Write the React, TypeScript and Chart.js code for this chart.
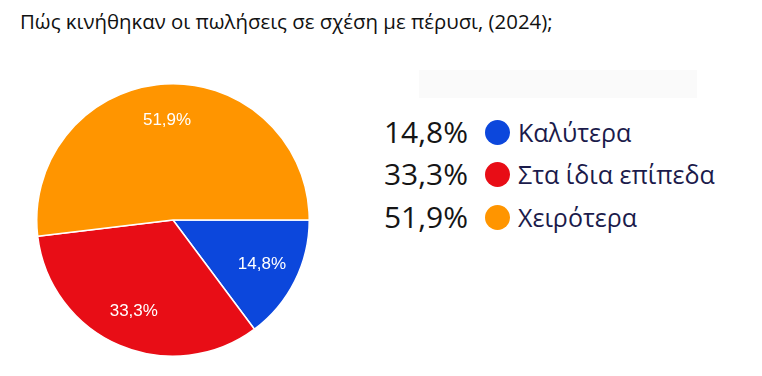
import React, { useEffect, useRef } from "react";
import { Chart, registerables } from "chart.js";

Chart.register(...registerables);

const title = "Πώς κινήθηκαν οι πωλήσεις σε σχέση με πέρυσι, (2024);";
const categories = ["Καλύτερα", "Στα ίδια επίπεδα", "Χειρότερα"];
const shares = [14.8, 33.3, 51.9];
const colors = ["#0c47dc", "#e80d16", "#ff9500"];

const fmt = (v: number) => v.toFixed(1).replace(".", ",") + "%";

const sliceLabels = {
  id: "sliceLabels",
  afterDatasetsDraw(chart: any) {
    const ctx = chart.ctx;
    const meta = chart.getDatasetMeta(0);
    ctx.save();
    ctx.fillStyle = "#ffffff";
    ctx.font = "17px 'Liberation Sans', Arial, sans-serif";
    ctx.textAlign = "center";
    ctx.textBaseline = "middle";
    meta.data.forEach((arc: any, i: number) => {
      const { x, y, startAngle, endAngle, outerRadius } = arc.getProps(
        ["x", "y", "startAngle", "endAngle", "outerRadius"],
        true
      );
      const mid = (startAngle + endAngle) / 2;
      const r = outerRadius * 0.73;
      ctx.fillText(fmt(shares[i]), x + Math.cos(mid) * r, y + Math.sin(mid) * r);
    });
    ctx.restore();
  },
};

export default function App() {
  const ref = useRef<HTMLCanvasElement>(null);
  useEffect(() => {
    if (!ref.current) return;
    const chart = new Chart(ref.current, {
      type: "pie",
      data: {
        labels: categories,
        datasets: [
          {
            data: shares,
            backgroundColor: colors,
            borderColor: "#ffffff",
            borderWidth: 1.5,
            hoverOffset: 0,
          },
        ],
      },
      options: {
        responsive: false,
        animation: false,
        rotation: 90,
        layout: { padding: 0 },
        plugins: {
          legend: { display: false },
          tooltip: { enabled: false },
          title: { display: false },
        },
      },
      plugins: [sliceLabels],
    });
    return () => chart.destroy();
  }, []);

  const rowY = [132, 174, 217];

  return (
    <div
      style={{
        position: "absolute",
        left: 0,
        top: 0,
        width: 762,
        height: 376,
        background: "#ffffff",
        overflow: "hidden",
        fontFamily: "'Open Sans', sans-serif",
      }}
    >
      <div
        style={{
          position: "absolute",
          left: 20,
          top: 8,
          fontSize: 20.4,
          lineHeight: "26px",
          color: "#111111",
          whiteSpace: "nowrap",
        }}
      >
        {title}
      </div>
      <canvas
        ref={ref}
        width={274}
        height={274}
        style={{ position: "absolute", left: 36, top: 83, width: 274, height: 274 }}
      />
      <div
        style={{
          position: "absolute",
          left: 419,
          top: 70,
          width: 278,
          height: 28,
          background: "#fafafa",
        }}
      />
      {categories.map((c, i) => (
        <React.Fragment key={c}>
          <div
            style={{
              position: "absolute",
              right: 762 - 468,
              top: rowY[i] - 21,
              height: 42,
              lineHeight: "42px",
              fontSize: 30,
              color: "#151515",
              whiteSpace: "nowrap",
            }}
          >
            {fmt(shares[i])}
          </div>
          <div
            style={{
              position: "absolute",
              left: 497 - 12.5,
              top: rowY[i] - 12.5,
              width: 25,
              height: 25,
              borderRadius: "50%",
              background: colors[i],
            }}
          />
          <div
            style={{
              position: "absolute",
              left: 518,
              top: rowY[i] - 20,
              height: 40,
              lineHeight: "40px",
              fontSize: 25,
              color: "#1b1b4b",
              whiteSpace: "nowrap",
            }}
          >
            {c}
          </div>
        </React.Fragment>
      ))}
    </div>
  );
}
